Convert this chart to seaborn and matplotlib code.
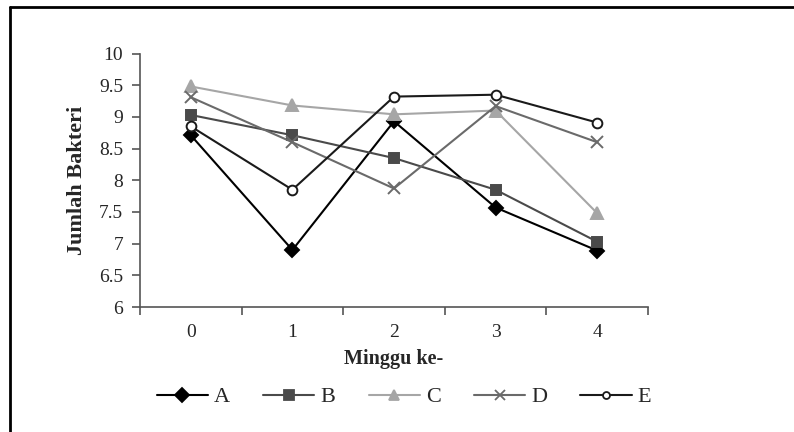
import matplotlib
matplotlib.use("Agg")
import matplotlib.pyplot as plt
import matplotlib.ticker as mticker
from matplotlib.lines import Line2D
import seaborn as sns
import pandas as pd

weeks = [0, 1, 2, 3, 4]
series_names = ["A", "B", "C", "D", "E"]
A = [8.71, 6.90, 8.93, 7.57, 6.89]
B = [9.03, 8.71, 8.35, 7.85, 7.03]
C = [9.48, 9.18, 9.04, 9.10, 7.48]
D = [9.31, 8.60, 7.87, 9.17, 8.60]
E = [8.85, 7.85, 9.32, 9.35, 8.91]
y_ticks = [6, 6.5, 7, 7.5, 8, 8.5, 9, 9.5, 10]

sns.set_theme(style="white")
plt.rcParams["font.family"] = ["Liberation Serif", "DejaVu Serif"]

colors = {"A": "#000000", "B": "#4a4a4a", "C": "#a6a6a6", "D": "#6a6a6a", "E": "#1a1a1a"}
markers = {"A": "D", "B": "s", "C": "^", "D": "x", "E": "o"}
msizes = {"A": 7, "B": 7, "C": 9, "D": 9, "E": 7}

fig = plt.figure(figsize=(7.94, 4.32), dpi=100)
ax = fig.add_axes([140/794, 1-307/432, (648-140)/794, (307-53.5)/432])

for name, vals in zip(series_names, [A, B, C, D, E]):
    d = pd.DataFrame({"Minggu": weeks, "Jumlah": vals})
    sns.lineplot(data=d, x="Minggu", y="Jumlah", ax=ax, color=colors[name],
                 marker=markers[name], markersize=msizes[name], linewidth=1.5,
                 markerfacecolor="white" if name == "E" else colors[name],
                 markeredgecolor=colors[name], markeredgewidth=1.4,
                 legend=False)

ax.set_xlim(-0.5, 4.5)
ax.set_ylim(6, 10)
ax.set_yticks(y_ticks)
ax.yaxis.set_major_formatter(mticker.FuncFormatter(lambda v, p: f"{v:g}"))
ax.set_xticks([-0.5, 0.5, 1.5, 2.5, 3.5, 4.5])
ax.set_xticklabels([])
ax.set_xticks(weeks, minor=True)
ax.set_xticklabels([str(w) for w in weeks], minor=True)
ax.tick_params(axis="x", which="major", length=6, width=1.2, color="#555555", direction="out", bottom=True)
ax.tick_params(axis="x", which="minor", length=0, pad=12, labelsize=14)
ax.tick_params(axis="y", length=6, width=1.2, color="#555555", direction="out", pad=6, labelsize=14, left=True)

for s in ["top", "right"]:
    ax.spines[s].set_visible(False)
for s in ["left", "bottom"]:
    ax.spines[s].set_color("#555555")
    ax.spines[s].set_linewidth(1.2)

ax.set_xlabel("Minggu ke-", fontsize=14.5, fontweight="bold", labelpad=6)
ax.set_ylabel("Jumlah Bakteri", fontsize=16, fontweight="bold", labelpad=9)
ax.grid(False)

handles = []
for name in series_names:
    h = Line2D([0], [0], color=colors[name], marker=markers[name], lw=1.5,
               markersize=7 if name != "E" else 5,
               markerfacecolor="white" if name == "E" else colors[name],
               markeredgecolor=colors[name], markeredgewidth=1.3)
    handles.append(h)
fig.legend(handles, series_names, loc="center", bbox_to_anchor=(404/794, 1-397/432), ncol=5,
           frameon=False, fontsize=16, handlelength=2.3, handletextpad=0.27,
           columnspacing=1.5, borderpad=0, borderaxespad=0)

fig.add_artist(Line2D([10/794, 10/794], [0, 1-7/432], color="black", lw=2, transform=fig.transFigure))
fig.add_artist(Line2D([10/794, 1], [1-7/432, 1-7/432], color="black", lw=2, transform=fig.transFigure))

fig.savefig("out.png", dpi=100)
